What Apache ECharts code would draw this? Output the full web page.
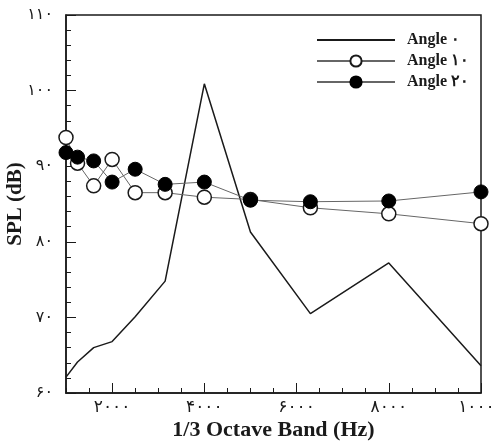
<!DOCTYPE html>
<html>
<head>
<meta charset="utf-8">
<script src="https://cdn.jsdelivr.net/npm/echarts@6/dist/echarts.min.js"></script>
<style>
  html, body { margin: 0; padding: 0; background: #fff; }
  #main { width: 496px; height: 441px; }
</style>
</head>
<body>
<div id="main"></div>
<script>
// 1/3 octave band centre frequencies (Hz)
var bands = [1000, 1250, 1600, 2000, 2500, 3150, 4000, 5000, 6300, 8000, 10000];

// SPL (dB) for each angle
var angle0  = [62.1, 64.1, 66.0, 66.8, 70.1, 74.8, 100.9, 81.3, 70.5, 77.2, 63.6];
var angle10 = [93.8, 90.4, 87.4, 90.9, 86.5, 86.5, 85.9, 85.6, 84.5, 83.7, 82.4];
var angle20 = [91.8, 91.2, 90.7, 87.9, 89.6, 87.6, 87.9, 85.5, 85.3, 85.4, 86.6];

// tick labels
var xTicks = [2000, 4000, 6000, 8000, 10000];
var seriesNames = ['Angle ۰', 'Angle ۱۰', 'Angle ۲۰'];

var faDigits = ['۰','۱','۲','۳','۴','۵','۶','۷','۸','۹'];
function toFa(v) {
    return String(v).replace(/[0-9]/g, function(d){ return faDigits[+d]; });
}
function pairs(vals) {
    return bands.map(function(b, i){ return [b, vals[i]]; });
}

var chart = echarts.init(document.getElementById('main'));
var serif = '"Liberation Serif", "Times New Roman", serif';
var ink = '#1a1a1a';

chart.setOption({
    animation: false,
    grid: {
        left: 66, top: 15, right: 15, bottom: 48,
        outerBoundsMode: 'none',
        containLabel: false,
        show: true, borderColor: ink, borderWidth: 1.5
    },
    legend: {
        orient: 'vertical',
        left: 316, top: 32, padding: 0,
        itemWidth: 78, itemHeight: 14, itemGap: 5,
        data: [
            { name: seriesNames[0], itemStyle: { opacity: 0 } },
            { name: seriesNames[1] },
            { name: seriesNames[2] }
        ],
        textStyle: {
            fontFamily: serif, fontWeight: 'bold', fontSize: 16, color: ink,
            padding: [0, 0, 0, 7]
        }
    },
    xAxis: [{
        type: 'value',
        min: 1000, max: 10000, interval: 500,
        name: '1/3 Octave Band (Hz)',
        nameLocation: 'middle', nameGap: 26, nameMoveOverlap: false,
        nameTextStyle: { fontFamily: serif, fontWeight: 'bold', fontSize: 22, color: ink },
        axisLine: { lineStyle: { color: ink, width: 1.5 } },
        axisTick: { inside: true, length: 5, lineStyle: { color: ink } },
        axisLabel: {
            customValues: xTicks,
            formatter: function(v){ return toFa(v); },
            margin: 6, fontSize: 17, color: ink, fontFamily: '"DejaVu Sans"'
        },
        splitLine: { show: false }
    }, {
        type: 'value',
        position: 'bottom', offset: 0,
        min: 1000, max: 10000,
        axisLine: { show: false },
        axisTick: { inside: true, length: 10, customValues: xTicks, lineStyle: { color: ink } },
        axisLabel: { show: false },
        splitLine: { show: false }
    }],
    yAxis: {
        type: 'value',
        min: 60, max: 110, interval: 10,
        name: 'SPL (dB)',
        nameLocation: 'middle', nameGap: 40, nameMoveOverlap: false,
        nameTextStyle: { fontFamily: serif, fontWeight: 'bold', fontSize: 21, color: ink },
        axisLine: { show: true, lineStyle: { color: ink, width: 1.5 } },
        axisTick: { show: true, inside: true, length: 10, lineStyle: { color: ink } },
        minorTick: { show: true, splitNumber: 5, length: 5, lineStyle: { color: ink } },
        axisLabel: {
            formatter: function(v){ return toFa(v); },
            margin: 13, fontSize: 16, color: ink, fontFamily: '"DejaVu Sans"'
        },
        splitLine: { show: false }
    },
    series: [{
        name: seriesNames[0],
        type: 'line',
        data: pairs(angle0),
        symbol: 'none',
        clip: false,
        lineStyle: { color: ink, width: 1.5 },
        itemStyle: { color: ink }
    }, {
        name: seriesNames[1],
        type: 'line',
        data: pairs(angle10),
        symbol: 'circle', symbolSize: 14,
        clip: false,
        lineStyle: { color: '#666', width: 1 },
        itemStyle: { color: '#fff', borderColor: ink, borderWidth: 1.5 }
    }, {
        name: seriesNames[2],
        type: 'line',
        data: pairs(angle20),
        symbol: 'circle', symbolSize: 14,
        clip: false,
        lineStyle: { color: '#666', width: 1 },
        itemStyle: { color: '#000', borderColor: '#000', borderWidth: 1 }
    }]
});
</script>
</body>
</html>
